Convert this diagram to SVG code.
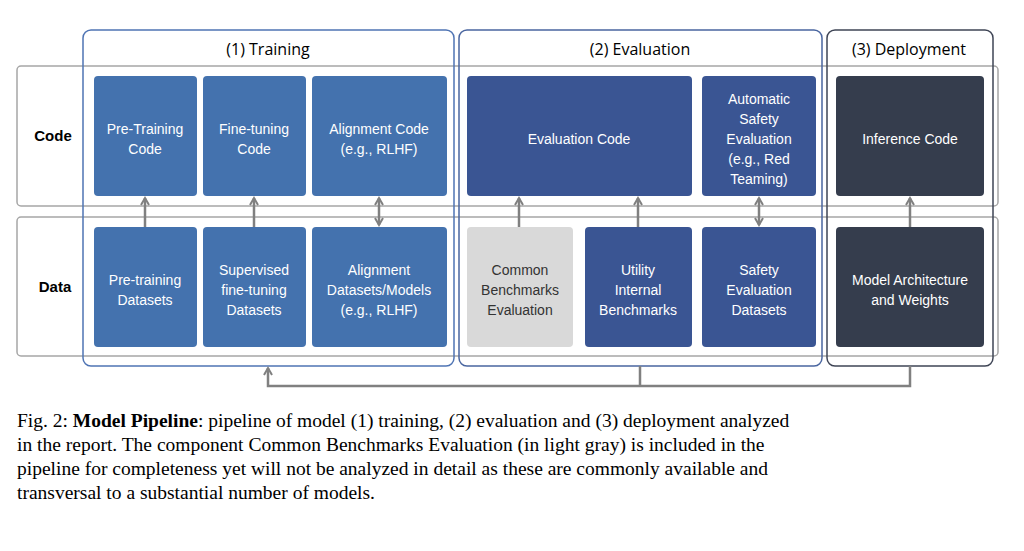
<svg xmlns="http://www.w3.org/2000/svg" width="1024" height="551" viewBox="0 0 1024 551">
<style>
.row{fill:none;stroke:#a6a6a6;stroke-width:1.5}
.n{stroke:none}
.t1{fill:#4472ae}.t2{fill:#3a5593}.t3{fill:#353d4d}.t4{fill:#d9d9d9}
.lbl{font-family:"Liberation Sans",Arial,sans-serif;font-size:14px;fill:#fff;text-anchor:middle}
.dk{fill:#333}
.rl{font-family:"Liberation Sans",Arial,sans-serif;font-size:15px;font-weight:bold;fill:#000;text-anchor:middle}
.hd{font-family:"Open Sans","Liberation Sans",sans-serif;font-size:16px;fill:#000;text-anchor:middle}
.cap{font-family:"Liberation Serif","Times New Roman",serif;font-size:19.5px;fill:#000}
.c{stroke:#808080;stroke-width:2.5;fill:none}
</style>
<defs>
<marker id="a" viewBox="0 0 10 10" refX="8" refY="5" markerWidth="4" markerHeight="4" orient="auto-start-reverse"><path d="M1,1 L8,5 L1,9" fill="none" stroke="#808080" stroke-width="2"/></marker>
</defs>
<g id="rows">
<rect class="row" x="17" y="66" width="981" height="140" rx="4"/>
<rect class="row" x="17" y="217" width="981" height="139" rx="4"/>
<text class="rl" x="53" y="141">Code</text>
<text class="rl" x="55" y="292">Data</text>
</g>
<g id="stages">
<rect x="83" y="30" width="371" height="336" rx="8" fill="none" stroke="#4f74b4" stroke-width="1.5"/>
<text class="hd" x="268" y="55">(1) Training</text>
<rect x="459" y="30" width="363" height="336" rx="8" fill="none" stroke="#4a66a0" stroke-width="1.5"/>
<text class="hd" x="640" y="55">(2) Evaluation</text>
<rect x="827" y="30" width="166" height="336" rx="8" fill="none" stroke="#3f4556" stroke-width="1.5"/>
<text class="hd" x="909" y="55">(3) Deployment</text>
</g>
<g id="pretrain-code"><rect class="n t1" x="94" y="76" width="103" height="120" rx="4"/><text class="lbl" x="145" y="134">Pre-Training</text><text class="lbl" x="145" y="154">Code</text></g>
<g id="finetune-code"><rect class="n t1" x="203" y="76" width="103" height="120" rx="4"/><text class="lbl" x="254" y="134">Fine-tuning</text><text class="lbl" x="254" y="154">Code</text></g>
<g id="align-code"><rect class="n t1" x="312" y="76" width="135" height="120" rx="4"/><text class="lbl" x="379" y="134">Alignment Code</text><text class="lbl" x="379" y="154">(e.g., RLHF)</text></g>
<g id="pretrain-data"><rect class="n t1" x="94" y="227" width="103" height="120" rx="4"/><text class="lbl" x="145" y="285">Pre-training</text><text class="lbl" x="145" y="305">Datasets</text></g>
<g id="sft-data"><rect class="n t1" x="203" y="227" width="103" height="120" rx="4"/><text class="lbl" x="254" y="275">Supervised</text><text class="lbl" x="254" y="295">fine-tuning</text><text class="lbl" x="254" y="315">Datasets</text></g>
<g id="align-data"><rect class="n t1" x="312" y="227" width="135" height="120" rx="4"/><text class="lbl" x="379" y="275">Alignment</text><text class="lbl" x="379" y="295">Datasets/Models</text><text class="lbl" x="379" y="315">(e.g., RLHF)</text></g>
<g id="eval-code"><rect class="n t2" x="467" y="76" width="225" height="120" rx="4"/><text class="lbl" x="579" y="144">Evaluation Code</text></g>
<g id="auto-safety"><rect class="n t2" x="702" y="76" width="114" height="120" rx="4"/><text class="lbl" x="759" y="104">Automatic</text><text class="lbl" x="759" y="124">Safety</text><text class="lbl" x="759" y="144">Evaluation</text><text class="lbl" x="759" y="164">(e.g., Red</text><text class="lbl" x="759" y="184">Teaming)</text></g>
<g id="common-bench"><rect class="n t4" x="467" y="227" width="106" height="120" rx="4"/><text class="lbl dk" x="520" y="275">Common</text><text class="lbl dk" x="520" y="295">Benchmarks</text><text class="lbl dk" x="520" y="315">Evaluation</text></g>
<g id="utility-bench"><rect class="n t2" x="585" y="227" width="107" height="120" rx="4"/><text class="lbl" x="638" y="275">Utility</text><text class="lbl" x="638" y="295">Internal</text><text class="lbl" x="638" y="315">Benchmarks</text></g>
<g id="safety-data"><rect class="n t2" x="702" y="227" width="114" height="120" rx="4"/><text class="lbl" x="759" y="275">Safety</text><text class="lbl" x="759" y="295">Evaluation</text><text class="lbl" x="759" y="315">Datasets</text></g>
<g id="inference-code"><rect class="n t3" x="836" y="76" width="148" height="120" rx="4"/><text class="lbl" x="910" y="144">Inference Code</text></g>
<g id="model-weights"><rect class="n t3" x="836" y="227" width="148" height="120" rx="4"/><text class="lbl" x="910" y="285">Model Architecture</text><text class="lbl" x="910" y="305">and Weights</text></g>
<g id="connectors">
<line class="c" x1="145" y1="227" x2="145" y2="198" marker-end="url(#a)"/>
<line class="c" x1="254" y1="227" x2="254" y2="198" marker-end="url(#a)"/>
<line class="c" x1="379" y1="225" x2="379" y2="198" marker-start="url(#a)" marker-end="url(#a)"/>
<line class="c" x1="519" y1="227" x2="519" y2="198" marker-end="url(#a)"/>
<line class="c" x1="638" y1="227" x2="638" y2="198" marker-end="url(#a)"/>
<line class="c" x1="759" y1="225" x2="759" y2="198" marker-start="url(#a)" marker-end="url(#a)"/>
<line class="c" x1="910" y1="227" x2="910" y2="198" marker-end="url(#a)"/>
<path class="c" d="M640,366 V386 M910,366 V386 H268 V368" marker-end="url(#a)"/>
</g>
<g id="caption">
<text class="cap" x="17" y="427"><tspan>Fig. 2: </tspan><tspan font-weight="bold">Model Pipeline</tspan><tspan>: pipeline of model (1) training, (2) evaluation and (3) deployment analyzed</tspan></text>
<text class="cap" x="17" y="451">in the report. The component Common Benchmarks Evaluation (in light gray) is included in the</text>
<text class="cap" x="17" y="475">pipeline for completeness yet will not be analyzed in detail as these are commonly available and</text>
<text class="cap" x="17" y="499">transversal to a substantial number of models.</text>
</g>
</svg>
